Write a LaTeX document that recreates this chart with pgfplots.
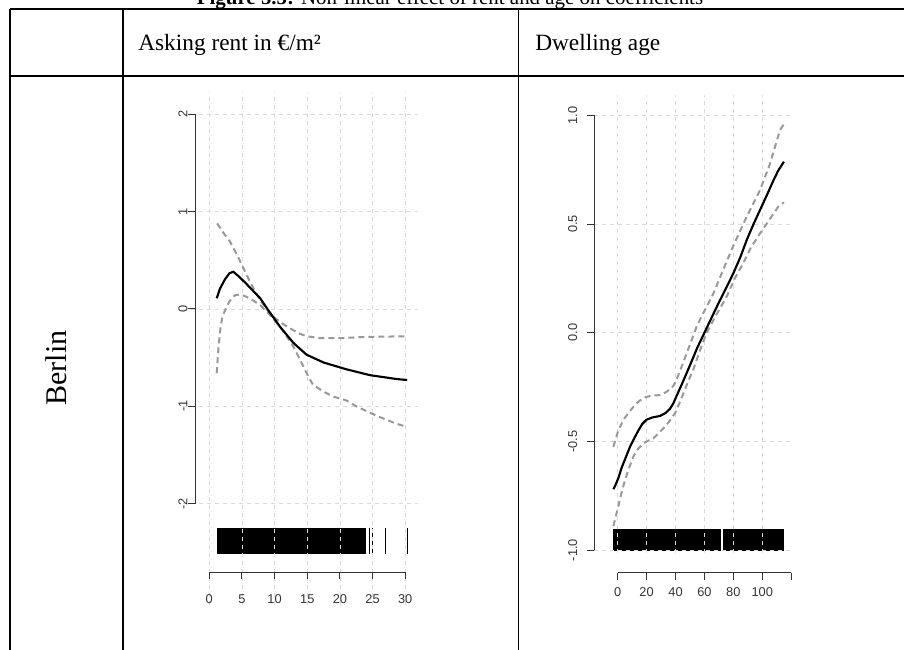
\documentclass[border=0pt]{standalone}
\usepackage{fontspec}
\setmainfont{Liberation Serif}
\newfontfamily\rfont{Liberation Sans}
\usepackage{pgfplots}
\pgfplotsset{compat=1.18}

\definecolor{gridcol}{gray}{0.86}
\definecolor{bandcol}{gray}{0.60}
\definecolor{axiscol}{gray}{0.20}

\pgfplotsset{
  effect/.style={black, line width=1.6pt},
  band/.style={bandcol, line width=1.5pt, dash pattern=on 4.5pt off 3pt},
  rugline/.style={black, line width=0.8pt},
}
\tikzset{
  gridline/.style={gridcol, line width=0.6pt, dash pattern=on 3pt off 3pt},
  axisline/.style={axiscol, line width=0.75pt},
  ticklab/.style={text=axiscol, font=\rfont\fontsize{9.6}{10}\selectfont, inner sep=0pt},
}

\begin{document}
\begin{tikzpicture}
% page frame in pixel units (origin top left, y downwards)
\begin{scope}[x=0.75pt, y=-0.75pt]
  \path[use as bounding box] (0,0) rectangle (904,650);
  % caption (runs above the page edge)
  \node[anchor=base, inner sep=0pt, font=\fontsize{15.7}{18}\selectfont]
    at (450,4.5) {\textbf{Figure 5.5:} Non-linear effect of rent and age on coefficients};
  % table rules
  \draw[line width=1.4pt] (10,9) -- (910,9);
  \draw[line width=1.4pt] (10,76) -- (910,76);
  \draw[line width=1.4pt] (10,9) -- (10,660);
  \draw[line width=1.4pt] (123,9) -- (123,660);
  \draw[line width=1.4pt] (518.5,9) -- (518.5,660);
  % headers
  \node[anchor=base west, inner sep=0pt, font=\fontsize{17.5}{21}\selectfont]
    at (138,50.5) {Asking rent in €/m²};
  \node[anchor=base west, inner sep=0pt, font=\fontsize{17.5}{21}\selectfont]
    at (535,50.5) {Dwelling age};
  \node[anchor=base, rotate=90, inner sep=0pt, font=\fontsize{22.5}{26}\selectfont]
    at (66.7,368) {Berlin};
\end{scope}

% ---------- rent effect ----------
\begin{axis}[
  at={(137.39pt,-453.59pt)}, anchor=south west,
  scale only axis, width=176.31pt, height=384.58pt,
  xmin=-4, xmax=32, ymin=-3.04, ymax=2.23,
  hide axis, clip=false]
  % rug of observed rents
  \addplot[fill=black, draw=none] coordinates {(1.2,-2.25) (24.0,-2.25) (24.0,-2.52) (1.2,-2.52)};
  \addplot[rugline] coordinates {(24.5,-2.25) (24.5,-2.52)};
  \addplot[rugline] coordinates {(25.0,-2.25) (25.0,-2.52)};
  \addplot[rugline] coordinates {(27.0,-2.25) (27.0,-2.52)};
  \addplot[rugline] coordinates {(30.4,-2.25) (30.4,-2.52)};
  % grid
  \pgfplotsinvokeforeach{0,5,10,15,20,25,30}{
    \draw[gridline] (axis cs:#1,-3.04) -- (axis cs:#1,2.23);}
  \pgfplotsinvokeforeach{-2,-1,0,1,2}{
    \draw[gridline] (axis cs:-4,#1) -- (axis cs:32,#1);}
  % confidence band
  \addplot[band] coordinates {
    (1.2,0.88) (2.2,0.78) (3.2,0.69) (4.3,0.55) (5.5,0.38) (6.7,0.22)
    (7.8,0.09) (9,-0.02) (10,-0.09) (11.2,-0.15) (12.4,-0.2) (13.7,-0.25)
    (14.9,-0.28) (17,-0.3) (20,-0.3) (23,-0.29) (26,-0.285) (30,-0.28)};
  \addplot[band] coordinates {
    (1.13,-0.66) (1.4,-0.4) (1.7,-0.2) (2.0,-0.08) (2.5,0.0) (3.1,0.08)
    (3.9,0.14) (4.8,0.15) (6.2,0.11) (7.8,0.04) (9.55,-0.08) (10.8,-0.18)
    (11.85,-0.28) (12.9,-0.39) (13.9,-0.52) (15.2,-0.7) (15.9,-0.78)
    (17.5,-0.85) (19,-0.9) (21,-0.94) (22.5,-1.0) (24.1,-1.05) (25.7,-1.1)
    (27.2,-1.14) (28.7,-1.18) (30.2,-1.21)};
  % smooth effect
  \addplot[effect] coordinates {
    (1.13,0.11) (1.64,0.21) (2.4,0.305) (3.07,0.367) (3.68,0.383) (4.6,0.33)
    (5.7,0.257) (6.8,0.18) (7.8,0.11) (9.0,-0.01) (10.8,-0.18) (12.9,-0.35)
    (14.9,-0.47) (17.5,-0.55) (21,-0.62) (24.6,-0.68) (28.7,-0.72) (30.3,-0.73)};
  % axes
  \draw[axisline] (axis cs:-2.19,-2) -- (axis cs:-2.19,2);
  \pgfplotsinvokeforeach{-2,-1,0,1,2}{
    \draw[axisline] (axis cs:-2.19,#1) -- ++(-5.25pt,0pt);
    \node[ticklab, xshift=-9pt, rotate=90] at (axis cs:-2.19,#1) {#1};}
  \draw[axisline] (axis cs:0,-2.703) -- (axis cs:30,-2.703);
  \pgfplotsinvokeforeach{0,5,10,15,20,25,30}{
    \draw[axisline] (axis cs:#1,-2.703) -- ++(0pt,-5.25pt);
    \node[ticklab, yshift=-20.25pt] at (axis cs:#1,-2.703) {#1};}
\end{axis}

% ---------- dwelling age effect ----------
\begin{axis}[
  at={(445.5pt,-414.79pt)}, anchor=south west,
  scale only axis, width=149.25pt, height=343.56pt,
  xmin=-16.4, xmax=121.3, ymin=-1.014, ymax=1.094,
  hide axis, clip=false]
  % rug of observed ages
  \addplot[fill=black, draw=none] coordinates {(-3,-0.903) (71.5,-0.903) (71.5,-1.003) (-3,-1.003)};
  \addplot[fill=black, draw=none] coordinates {(72.6,-0.903) (115.3,-0.903) (115.3,-1.003) (72.6,-1.003)};
  % grid
  \pgfplotsinvokeforeach{0,20,40,60,80,100}{
    \draw[gridline] (axis cs:#1,-1.014) -- (axis cs:#1,1.094);}
  \pgfplotsinvokeforeach{-1,-0.5,0,0.5,1}{
    \draw[gridline] (axis cs:-16.4,#1) -- (axis cs:121.3,#1);}
  % confidence band
  \addplot[band] coordinates {
    (-3,-0.525) (0.4,-0.45) (4,-0.40) (8.5,-0.36) (13,-0.325) (17.7,-0.30)
    (23,-0.29) (29.3,-0.287) (33,-0.275) (36.2,-0.26) (38.5,-0.245)
    (40.8,-0.215) (44,-0.16) (48,-0.09) (54.7,0.03) (60,0.1) (66.2,0.18)
    (73,0.29) (80,0.40) (89,0.53) (98.5,0.657) (105,0.77) (112.3,0.933) (115,0.96)};
  \addplot[band] coordinates {
    (-3,-0.89) (-1.5,-0.85) (0.4,-0.80) (2.5,-0.74) (5,-0.68) (8,-0.62)
    (10.8,-0.57) (14,-0.535) (17.7,-0.51) (21,-0.497) (24.6,-0.486)
    (28,-0.465) (31.6,-0.44) (35.5,-0.41) (39.7,-0.37) (43,-0.32)
    (45.4,-0.28) (49,-0.22) (52.3,-0.17) (57,-0.08) (61.6,0.0) (68,0.08)
    (75.4,0.166) (81,0.25) (86.9,0.32) (92,0.39) (98.5,0.457) (105,0.52)
    (111.1,0.58) (115,0.60)};
  % smooth effect
  \addplot[effect] coordinates {
    (-3,-0.72) (-1.5,-0.70) (0.4,-0.67) (2.8,-0.62) (5.5,-0.575) (8.5,-0.525)
    (11.5,-0.485) (14.3,-0.45) (17,-0.42) (20,-0.40) (24,-0.39) (29.3,-0.383)
    (33,-0.37) (36.2,-0.35) (38.5,-0.325) (40.8,-0.29) (43.5,-0.25)
    (45.5,-0.22) (50,-0.15) (55,-0.07) (59.3,-0.01) (65,0.07) (70.8,0.15)
    (75,0.205) (80,0.273) (85,0.35) (89.3,0.427) (94,0.5) (98.5,0.565)
    (103,0.63) (107.7,0.70) (111,0.745) (115,0.787)};
  % axes
  \draw[axisline] (axis cs:-16.2,-1) -- (axis cs:-16.2,1);
  \pgfplotsinvokeforeach{-1,-0.5,0,0.5,1}{
    \draw[axisline] (axis cs:-16.2,#1) -- ++(-5.25pt,0pt);}
  \node[ticklab, xshift=-16.2pt, rotate=90] at (axis cs:-16.2,-1) {-1.0};
  \node[ticklab, xshift=-16.2pt, rotate=90] at (axis cs:-16.2,-0.5) {-0.5};
  \node[ticklab, xshift=-16.2pt, rotate=90] at (axis cs:-16.2,0) {0.0};
  \node[ticklab, xshift=-16.2pt, rotate=90] at (axis cs:-16.2,0.5) {0.5};
  \node[ticklab, xshift=-16.2pt, rotate=90] at (axis cs:-16.2,1) {1.0};
  \draw[axisline] (axis cs:0,-1.1045) -- (axis cs:120,-1.1045);
  \pgfplotsinvokeforeach{0,20,40,60,80,100,120}{
    \draw[axisline] (axis cs:#1,-1.1045) -- ++(0pt,-5.25pt);}
  \pgfplotsinvokeforeach{0,20,40,60,80,100}{
    \node[ticklab, yshift=-14.5pt] at (axis cs:#1,-1.1045) {#1};}
\end{axis}
\end{tikzpicture}
\end{document}
